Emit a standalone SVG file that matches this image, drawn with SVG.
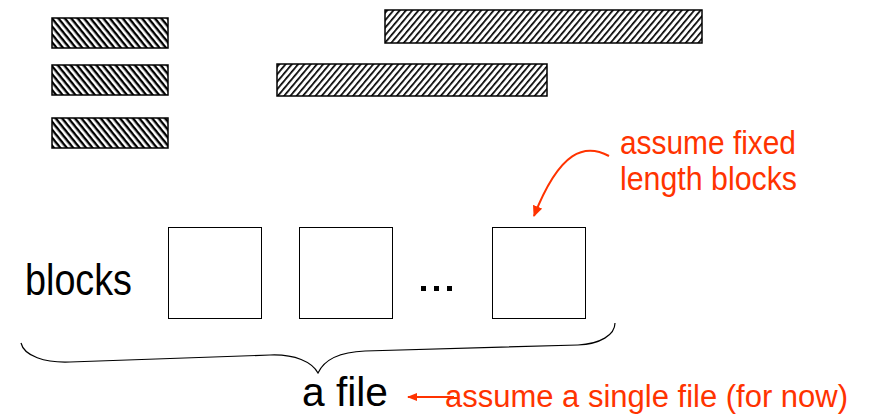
<svg xmlns="http://www.w3.org/2000/svg" width="870" height="415" viewBox="0 0 870 415">
  <style>
    .bar { stroke: #000; stroke-width: 1.5; }
    .box { fill: #fff; stroke: #000; stroke-width: 1; }
    .lbl { font-family: "Liberation Sans", Arial, sans-serif; fill: #000; }
    .note { font-family: "Liberation Sans", Arial, sans-serif; fill: #ff3300; }
    .conn { fill: none; stroke: #ff3300; stroke-width: 2; }
    .brace { fill: none; stroke: #000; stroke-width: 1.2; }
  </style>
  <defs>
    <!-- back-slash hatching for the small bars -->
    <pattern id="hatchBack" patternUnits="userSpaceOnUse" width="10" height="5" patternTransform="rotate(51)">
      <rect width="10" height="5" fill="#fff"/>
      <rect width="10" height="2.4" fill="#000"/>
    </pattern>
    <!-- forward-slash hatching for the long bars -->
    <pattern id="hatchFwd" patternUnits="userSpaceOnUse" width="10" height="4.8" patternTransform="rotate(-50)">
      <rect width="10" height="4.8" fill="#fff"/>
      <rect width="10" height="1.7" fill="#000"/>
    </pattern>
    <marker id="head" markerWidth="12" markerHeight="10" refX="10" refY="5" orient="auto" markerUnits="userSpaceOnUse">
      <path d="M0,0 L11,5 L0,10 Z" fill="#ff3300"/>
    </marker>
    <marker id="headSmall" markerWidth="10" markerHeight="8" refX="9" refY="4" orient="auto" markerUnits="userSpaceOnUse">
      <path d="M0,0 L10,4 L0,8 Z" fill="#ff3300"/>
    </marker>
  </defs>

  <!-- variable-length records -->
  <g id="record-1"><rect class="bar" x="52" y="18" width="116" height="30" fill="url(#hatchBack)"/></g>
  <g id="record-2"><rect class="bar" x="52" y="65" width="116" height="30" fill="url(#hatchBack)"/></g>
  <g id="record-3"><rect class="bar" x="52" y="118" width="116" height="30" fill="url(#hatchBack)"/></g>
  <g id="record-4"><rect class="bar" x="385" y="10" width="317" height="33" fill="url(#hatchFwd)"/></g>
  <g id="record-5"><rect class="bar" x="277" y="64" width="270" height="32" fill="url(#hatchFwd)"/></g>

  <!-- fixed-size blocks -->
  <g id="blocks-label"><text class="lbl" x="25" y="295" font-size="44" textLength="107" lengthAdjust="spacingAndGlyphs">blocks</text></g>
  <g id="block-1"><rect class="box" x="168.5" y="227.5" width="93" height="91"/></g>
  <g id="block-2"><rect class="box" x="299.5" y="227.5" width="93" height="91"/></g>
  <g id="ellipsis">
    <rect x="421" y="286" width="5" height="5" fill="#000"/>
    <rect x="434" y="286" width="5" height="5" fill="#000"/>
    <rect x="447" y="286" width="5" height="5" fill="#000"/>
  </g>
  <g id="block-3"><rect class="box" x="492.5" y="227.5" width="93" height="91"/></g>

  <!-- file brace -->
  <g id="file-brace">
    <path class="brace" d="M21,343 C24,356 45,363 70,362 L270,355 C295,354 312,362 318,373 C324,360 340,352 365,351 L578,345 C600,344 615,335 615,323"/>
  </g>
  <g id="file-label"><text class="lbl" x="302" y="406" font-size="40" textLength="86" lengthAdjust="spacingAndGlyphs">a file</text></g>

  <!-- annotations -->
  <g id="note-fixed">
    <text class="note" x="620" y="154" font-size="33" textLength="176" lengthAdjust="spacingAndGlyphs">assume fixed</text>
    <text class="note" x="620" y="190" font-size="33" textLength="177" lengthAdjust="spacingAndGlyphs">length blocks</text>
  </g>
  <g id="note-single"><text class="note" x="445" y="407" font-size="31" textLength="403" lengthAdjust="spacingAndGlyphs">assume a single file (for now)</text></g>

  <g id="connectors">
    <path class="conn" d="M609,156 C585,143 560,150 534,216" marker-end="url(#head)"/>
    <path class="conn" d="M454,397 L408,397" stroke-width="1.5" marker-end="url(#headSmall)"/>
  </g>
</svg>
